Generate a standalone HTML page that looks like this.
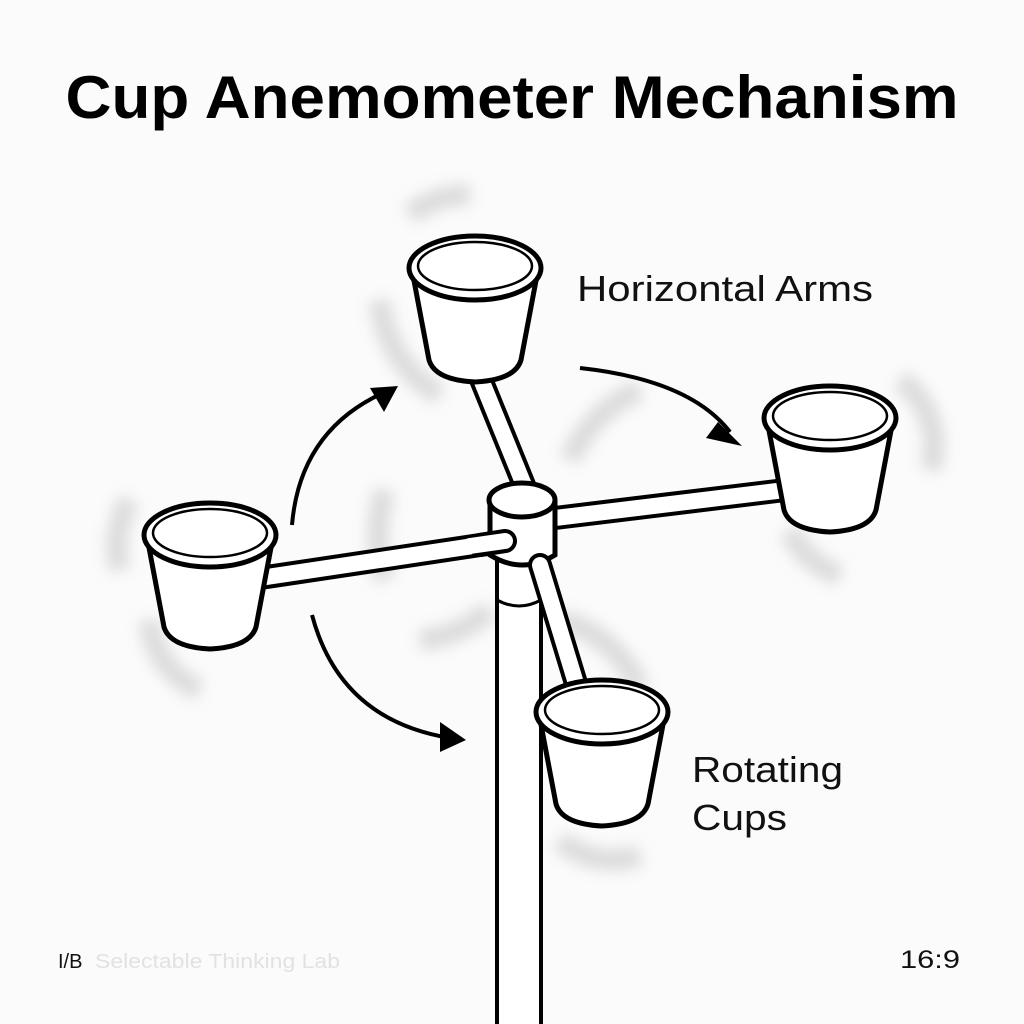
<!DOCTYPE html>
<html><head><meta charset="utf-8"><style>
html,body{margin:0;padding:0;background:#fbfbfb;}
svg{display:block}
</style></head><body>
<svg width="1024" height="1024" viewBox="0 0 1024 1024" xmlns="http://www.w3.org/2000/svg">
<defs>
<filter id="bl" x="-50%" y="-50%" width="200%" height="200%"><feGaussianBlur stdDeviation="7"/></filter>
<g id="cup">
<path d="M-63,2 L-46,92 Q-40,112 0,114 Q40,112 46,92 L63,2" fill="#fff" stroke="#000" stroke-width="5" stroke-linejoin="round"/>
<ellipse cx="0" cy="0" rx="66" ry="32" fill="#fff" stroke="#000" stroke-width="5"/>
<ellipse cx="0" cy="-2" rx="57" ry="24" fill="#fff" stroke="#000" stroke-width="2.5"/>
</g>
<marker id="ah" markerWidth="10" markerHeight="10" refX="6" refY="5" orient="auto" markerUnits="userSpaceOnUse" viewBox="0 0 10 10">
<path d="M0,0 L10,5 L0,10 Z" fill="#000"/>
</marker>
</defs>
<rect width="1024" height="1024" fill="#fbfbfb"/>
<text x="512" y="118" text-anchor="middle" font-family="Liberation Sans, sans-serif" font-weight="bold" font-size="60" textLength="893" lengthAdjust="spacingAndGlyphs" fill="#000">Cup Anemometer Mechanism</text>

<!-- motion blur streaks -->
<g filter="url(#bl)" fill="none" stroke="#c4c4c4" stroke-width="22" opacity="0.55">
<path d="M385,580 A150,150 0 0 1 385,490"/>
<path d="M420,640 A120,120 0 0 0 490,610"/>
<path d="M570,460 A130,130 0 0 1 640,390"/>
<path d="M560,620 A120,120 0 0 1 640,690"/>
<path d="M380,300 A120,120 0 0 0 440,395"/>
<path d="M150,620 A80,80 0 0 0 200,690"/>
<path d="M120,570 A90,90 0 0 1 130,500"/>
<path d="M900,380 A80,80 0 0 1 930,470"/>
<path d="M790,530 A80,80 0 0 0 840,575"/>
<path d="M560,840 A80,80 0 0 0 640,855"/>
<path d="M410,215 A90,90 0 0 1 470,195"/>
</g>

<!-- pole -->
<rect x="497" y="555" width="44" height="480" fill="#fff" stroke="#000" stroke-width="4"/>
<path d="M497,600 Q519,612 541,600" fill="none" stroke="#000" stroke-width="3"/>

<!-- arms -->
<g stroke="#000" stroke-width="24" stroke-linecap="round"><line x1="500" y1="542" x2="260" y2="578"/><line x1="555" y1="518" x2="785" y2="490"/><line x1="528" y1="495" x2="478" y2="372"/></g>
<g stroke="#fff" stroke-width="16" stroke-linecap="round"><line x1="500" y1="542" x2="260" y2="578"/><line x1="555" y1="518" x2="785" y2="490"/><line x1="528" y1="495" x2="478" y2="372"/></g>

<!-- hub -->
<path d="M490,500 L490,555 Q522,575 555,555 L555,500" fill="#fff" stroke="#000" stroke-width="5"/>
<ellipse cx="522" cy="500" rx="33" ry="17" fill="#fff" stroke="#000" stroke-width="5"/>
<line x1="505" y1="541" x2="480" y2="545" stroke="#000" stroke-width="24" stroke-linecap="round"/>
<line x1="505" y1="541" x2="470" y2="546" stroke="#fff" stroke-width="16" stroke-linecap="round"/>
<line x1="540" y1="565" x2="578" y2="690" stroke="#000" stroke-width="24" stroke-linecap="round"/>
<line x1="540" y1="565" x2="578" y2="690" stroke="#fff" stroke-width="16" stroke-linecap="round"/>

<!-- cups -->
<use href="#cup" x="475" y="268"/>
<use href="#cup" x="210" y="535"/>
<use href="#cup" x="830" y="418"/>
<use href="#cup" x="602" y="712"/>

<!-- arrows -->
<g fill="none" stroke="#000" stroke-width="4">
<path d="M292,525 Q300,430 385,392"/>
<path d="M580,368 Q690,380 730,432"/>
<path d="M312,615 Q340,720 450,738"/>
</g>
<path d="M398,386 L370,388 L384,412 Z" fill="#000"/>
<path d="M742,446 L718,422 L706,438 Z" fill="#000"/>
<path d="M466,740 L440,722 L440,752 Z" fill="#000"/>

<g font-family="Liberation Sans, sans-serif" fill="#111">
<text x="577" y="301" font-size="36" textLength="296" lengthAdjust="spacingAndGlyphs">Horizontal Arms</text>
<text x="692" y="782" font-size="36" textLength="151" lengthAdjust="spacingAndGlyphs">Rotating</text>
<text x="692" y="830" font-size="36" textLength="95" lengthAdjust="spacingAndGlyphs">Cups</text>
<text x="900" y="968" font-size="25" textLength="60" lengthAdjust="spacingAndGlyphs">16:9</text>
<text x="58" y="968" font-size="20">I/B</text>
<text x="95" y="968" font-size="20" fill="#e2e2e2" textLength="245" lengthAdjust="spacingAndGlyphs">Selectable Thinking Lab</text>
</g>
</svg>
</body></html>
